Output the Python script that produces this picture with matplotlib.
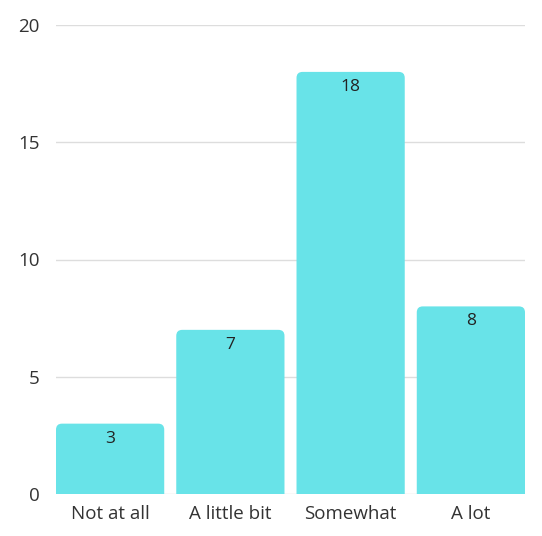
import matplotlib
matplotlib.use('Agg')
import matplotlib.pyplot as plt
from matplotlib.patches import FancyBboxPatch

categories = ['Not at all', 'A little bit', 'Somewhat', 'A lot']
values = [3, 7, 18, 8]
yticks = [0, 5, 10, 15, 20]

plt.rcParams['font.family'] = ['Open Sans', 'DejaVu Sans']

fig = plt.figure(figsize=(5.42, 5.36), dpi=100)
ax = fig.add_axes([56 / 542, 42 / 536, 469 / 542, 469 / 536])

color = '#68e3e8'
x = range(len(categories))
bars = ax.bar(x, values, width=0.9, color=color, zorder=2)

ax.set_xlim(-0.45, 3.45)
ax.set_ylim(0, 20)

# round the top corners; bottom corners sit below the axis and get clipped
px_x = 3.9 / 469
px_y = 20 / 469
r = 6
for b in bars:
    bx, bw, bh = b.get_x(), b.get_width(), b.get_height()
    off = 2 * r * px_y
    rnd = FancyBboxPatch((bx, -off), bw, bh + off,
                         boxstyle=f'round,pad=0,rounding_size={r * px_x}',
                         mutation_aspect=px_y / px_x,
                         fc=color, ec='none', zorder=2)
    ax.add_patch(rnd)
    b.set_visible(False)
    ax.text(bx + bw / 2, bh - 15 * px_y, str(int(bh)), ha='center', va='center',
            fontsize=12.5, color='#222222', zorder=3)

ax.set_yticks(yticks)
ax.set_xticks(list(x))
ax.set_xticklabels(categories)
ax.yaxis.grid(True, color='#dddddd', lw=1, zorder=0)
ax.set_axisbelow(True)
for s in ax.spines.values():
    s.set_visible(False)
ax.tick_params(length=0, labelsize=13.5, colors='#333333')
ax.tick_params(axis='y', pad=12)
ax.tick_params(axis='x', pad=8)

fig.savefig('out.png', dpi=100)
